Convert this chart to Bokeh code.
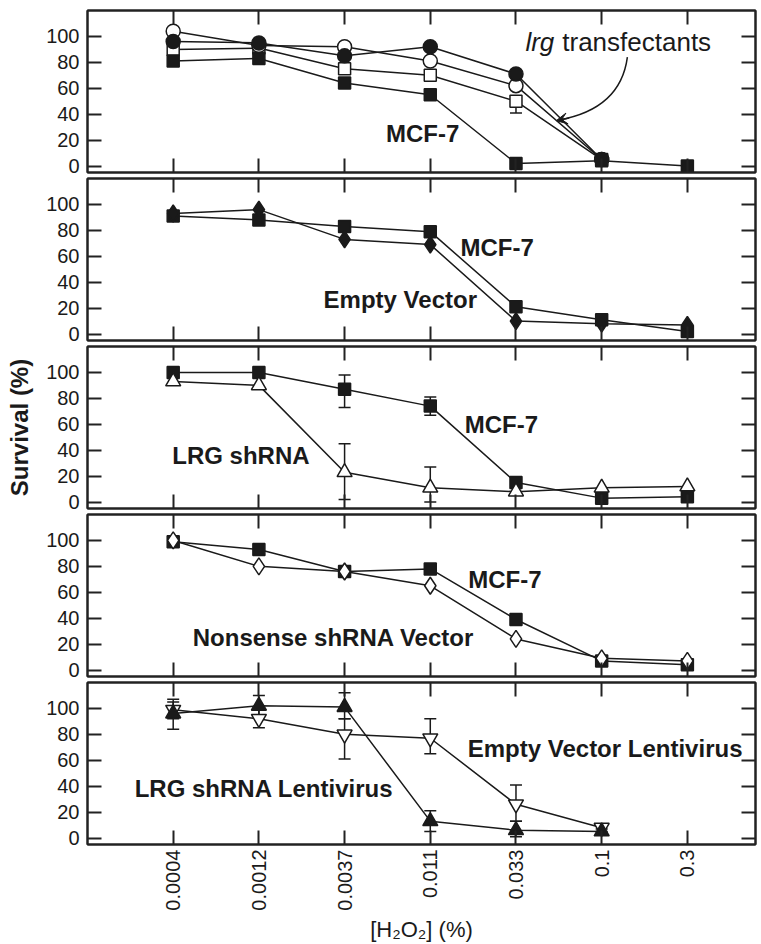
import numpy as np
from bokeh.plotting import figure
from bokeh.models import (Range1d, FixedTicker, LinearAxis, Label, Whisker,
                          ColumnDataSource, TeeHead, Arrow, VeeHead)
from bokeh.layouts import column
from bokeh.embed import file_html
from bokeh.resources import INLINE

# ---------------- data ----------------
conc = ["0.0004", "0.0012", "0.0037", "0.011", "0.033", "0.1", "0.3"]
y_ticks = [0, 20, 40, 60, 80, 100]

# panel 1 : MCF-7 and lrg transfectants
p1_mcf7 = [81, 83, 64, 55, 2, 4, 0]
p1_open_sq = [90, 91, 75, 70, 50, 5]
p1_fill_circ = [96, 95, 85, 92, 71, 5]
p1_open_circ = [104, 93, 92, 81, 62, 5]
p1_open_sq_err_x = [4]
p1_open_sq_err_lo = [41]
p1_open_sq_err_hi = [50]

# panel 2 : MCF-7 vs Empty Vector
p2_mcf7 = [91, 88, 83, 79, 21, 11, 2]
p2_empty = [93, 96, 73, 69, 10, 8, 7]

# panel 3 : MCF-7 vs LRG shRNA
p3_mcf7 = [100, 100, 87, 74, 15, 3, 4]
p3_mcf7_err_x = [2, 3]
p3_mcf7_err_lo = [73, 67]
p3_mcf7_err_hi = [98, 81]
p3_lrg = [93, 90, 23, 11, 8, 11, 12]
p3_lrg_err_x = [2, 3]
p3_lrg_err_lo = [2, 0]
p3_lrg_err_hi = [45, 27]

# panel 4 : MCF-7 vs Nonsense shRNA Vector
p4_mcf7 = [99, 93, 76, 78, 39, 7, 4]
p4_nons = [100, 80, 76, 65, 24, 9, 7]

# panel 5 : lentivirus
p5_lrg_lenti = [96, 102, 101, 13, 6, 5]
p5_lrg_err_lo = [84, 95, 92, 5, 1, 3]
p5_lrg_err_hi = [107, 110, 112, 21, 13, 7]
p5_empty_lenti = [99, 92, 80, 77, 26, 8]
p5_empty_err_lo = [92, 85, 61, 65, 13, 5]
p5_empty_err_hi = [105, 99, 92, 92, 41, 11]

# ---------------- layout ----------------
FONT = "Liberation Sans"
FW, FH = 668, 162
XR = (-1, 6.795)
YR = (-5, 120)
INK = "#1a1a1a"


def xs(vals):
    return list(range(len(vals)))


def axis(kind, labels=False):
    if kind in ("left", "right"):
        tk = FixedTicker(ticks=y_ticks)
    else:
        tk = FixedTicker(ticks=list(range(len(conc))))
    a = LinearAxis(ticker=tk, major_tick_in=14, major_tick_out=0,
                   minor_tick_line_color=None, axis_line_width=2,
                   major_tick_line_width=2, axis_line_color="#222222",
                   major_tick_line_color="#222222")
    if labels:
        a.major_label_text_font = FONT
        a.major_label_text_font_size = "20px"
        a.major_label_text_color = INK
    else:
        a.major_label_text_font_size = "1px"
        a.major_label_standoff = 0
        if kind in ("left", "right"):
            a.major_label_overrides = {t: "" for t in y_ticks}
        else:
            a.major_label_overrides = {i: "" for i in range(len(conc))}
    return a


def make_panel(first=False, last=False, ylabel=None):
    p = figure(frame_width=FW, frame_height=FH,
               x_range=Range1d(*XR), y_range=Range1d(*YR),
               output_backend="svg", toolbar_location=None,
               x_axis_location=None, y_axis_location=None,
               min_border_left=87, min_border_right=3,
               min_border_top=10 if first else 1, min_border_bottom=5)
    p.outline_line_color = "#222222"
    p.outline_line_width = 2
    p.xgrid.grid_line_color = None
    p.ygrid.grid_line_color = None
    p.background_fill_color = "white"
    p.border_fill_color = "white"

    left = axis("left", labels=True)
    left.major_label_standoff = 8
    if ylabel:
        left.axis_label = ylabel
        left.axis_label_text_font = FONT
        left.axis_label_text_font_size = "24px"
        left.axis_label_text_font_style = "bold"
        left.axis_label_text_color = INK
        left.axis_label_standoff = 10
    p.add_layout(left, "left")
    p.add_layout(axis("right"), "right")
    p.add_layout(axis("above"), "above")
    if last:
        b = axis("below", labels=True)
        b.major_label_overrides = {i: c for i, c in enumerate(conc)}
        b.major_label_orientation = np.pi / 2
        b.major_label_standoff = 5
        b.axis_label = "[H\u2082O\u2082] (%)"
        b.axis_label_text_font = FONT
        b.axis_label_text_font_size = "22px"
        b.axis_label_text_font_style = "normal"
        b.axis_label_text_color = INK
        b.axis_label_standoff = 3
        p.add_layout(b, "below")
    else:
        p.add_layout(axis("below"), "below")
    return p


def series(p, y, marker, filled, size=13):
    x = xs(y)
    p.line(x, y, line_color=INK, line_width=1.5)
    return (x, y, marker, filled, size)


def draw_markers(p, specs):
    for x, y, marker, filled, size in specs:
        p.scatter(x, y, marker=marker, size=size,
                  fill_color=INK if filled else "white",
                  line_color=INK, line_width=1.5)


def whisk(p, x, lo, hi):
    src = ColumnDataSource(dict(base=x, lower=lo, upper=hi))
    w = Whisker(source=src, base="base", lower="lower", upper="upper",
                line_color=INK, line_width=1.5,
                upper_head=TeeHead(size=12, line_width=1.5, line_color=INK),
                lower_head=TeeHead(size=12, line_width=1.5, line_color=INK))
    p.add_layout(w)


def label(p, x, y, text, size="24px", style="bold", align="center"):
    p.add_layout(Label(x=x, y=y, text=text, text_font=FONT,
                       text_font_size=size, text_font_style=style,
                       text_align=align, text_baseline="middle",
                       text_color=INK))


# ---- panel 1
p1 = make_panel(first=True)
whisk(p1, p1_open_sq_err_x, p1_open_sq_err_lo, p1_open_sq_err_hi)
specs = [series(p1, p1_open_sq, "square", False, 12),
         series(p1, p1_open_circ, "circle", False, 14),
         series(p1, p1_fill_circ, "circle", True, 14),
         series(p1, p1_mcf7, "square", True, 12)]
draw_markers(p1, specs)
label(p1, 2.91, 25, "MCF-7")
label(p1, 4.11, 96, "lrg", size="26px", style="italic", align="left")
label(p1, 4.54, 96, "transfectants", size="26px", style="normal", align="left")
p1.quadratic(x0=[5.30], y0=[84], x1=[4.50], y1=[35.5], cx=[5.22], cy=[44],
             line_color=INK, line_width=1.5)
p1.add_layout(Arrow(end=VeeHead(size=11, line_color=INK, fill_color=INK, line_width=1),
                    x_start=4.62, y_start=37, x_end=4.47, y_end=35,
                    line_color=INK, line_width=1.5))

# ---- panel 2
p2 = make_panel()
specs = [series(p2, p2_mcf7, "square", True, 12),
         series(p2, p2_empty, "diamond", True, 17)]
draw_markers(p2, specs)
label(p2, 3.78, 67, "MCF-7")
label(p2, 2.65, 27, "Empty Vector")

# ---- panel 3
p3 = make_panel(ylabel="Survival (%)")
whisk(p3, p3_mcf7_err_x, p3_mcf7_err_lo, p3_mcf7_err_hi)
whisk(p3, p3_lrg_err_x, p3_lrg_err_lo, p3_lrg_err_hi)
specs = [series(p3, p3_mcf7, "square", True, 12),
         series(p3, p3_lrg, "triangle", False, 15)]
draw_markers(p3, specs)
label(p3, 3.83, 60, "MCF-7")
label(p3, 0.79, 36, "LRG shRNA")

# ---- panel 4
p4 = make_panel()
specs = [series(p4, p4_mcf7, "square", True, 12),
         series(p4, p4_nons, "diamond", False, 17)]
draw_markers(p4, specs)
label(p4, 3.87, 70, "MCF-7")
label(p4, 1.87, 25, "Nonsense shRNA Vector")

# ---- panel 5
p5 = make_panel(last=True)
whisk(p5, xs(p5_empty_lenti), p5_empty_err_lo, p5_empty_err_hi)
whisk(p5, xs(p5_lrg_lenti), p5_lrg_err_lo, p5_lrg_err_hi)
specs = [series(p5, p5_empty_lenti, "inverted_triangle", False, 15),
         series(p5, p5_lrg_lenti, "triangle", True, 15)]
draw_markers(p5, specs)
label(p5, 5.04, 69, "Empty Vector Lentivirus")
label(p5, 1.06, 38, "LRG shRNA Lentivirus")

layout = column(p1, p2, p3, p4, p5, spacing=0)
open("out.html", "w").write(file_html(layout, INLINE))
